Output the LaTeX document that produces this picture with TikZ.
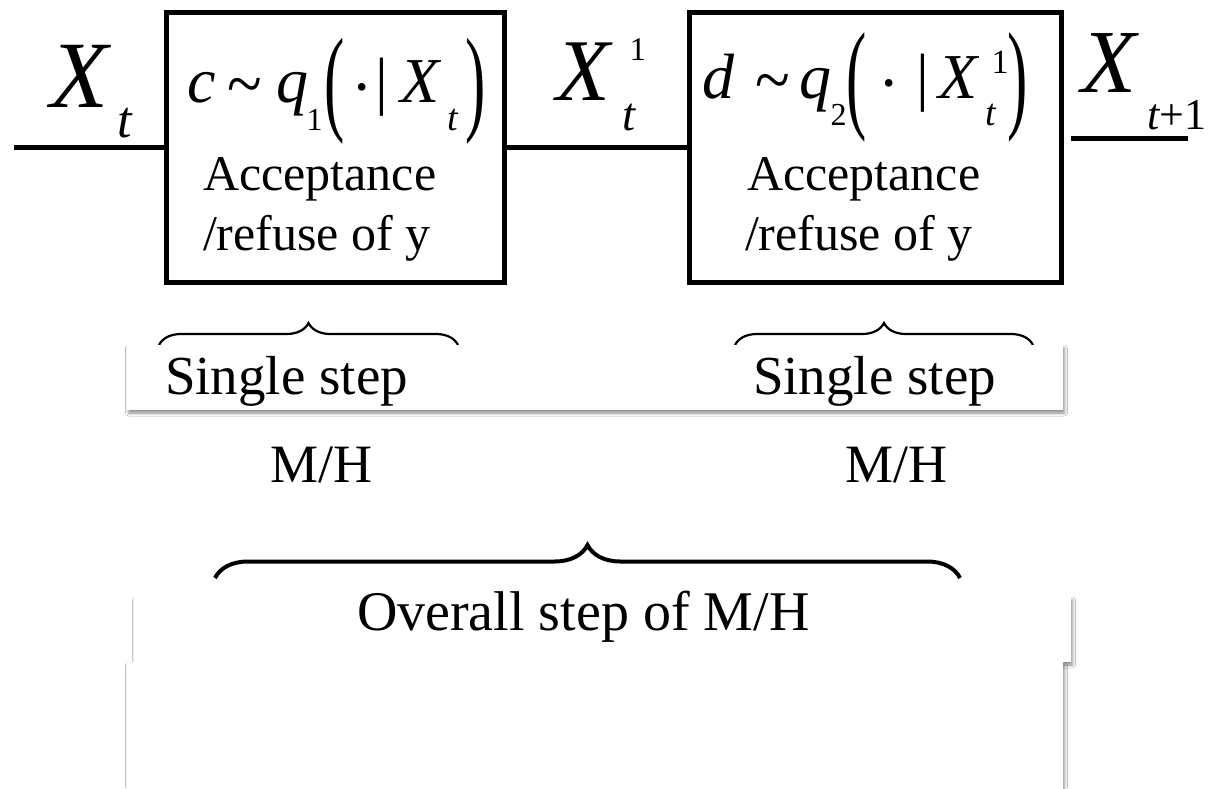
\documentclass[tikz,border=0pt]{standalone}
\usepackage{fontspec}
\setmainfont{Liberation Serif}
\usepackage{graphicx}
\usetikzlibrary{decorations.pathreplacing,shadows.blur}
\newcommand{\gl}[3]{\rlap{\hspace{#1pt}\raisebox{#2pt}{#3}}}
\newcommand{\fs}[1]{\fontsize{#1}{#1}\selectfont}
\newcommand{\tallp}[3]{\raisebox{#2pt}{\scalebox{0.95}[#1]{#3}}}
\newcommand{\wtilde}{\scalebox{1.0}[1.1]{\textasciitilde}}
\begin{document}
\begin{tikzpicture}[x=1pt,y=-1pt,
  txt/.style={anchor=base west,inner sep=0pt,outer sep=0pt},
  blockbox/.style={draw=black,line width=5pt,inner sep=0pt,outer sep=0pt,anchor=north west},
  wire/.style={line width=5pt},
  smallbrace/.style={decorate,decoration={brace,amplitude=22pt},line width=2.2pt},
  bigbrace/.style={decorate,decoration={brace,amplitude=33pt},line width=4pt},
  shadowbox/.style={fill=white,inner sep=0pt,outer sep=0pt,anchor=north west,
    blur shadow={shadow xshift=1.5pt,shadow yshift=-3pt,shadow blur radius=3pt,shadow opacity=45}}]

\useasboundingbox (0,0) rectangle (1218,788);
\fill[white] (0,0) rectangle (1218,788);

% blocks
\node[blockbox,minimum width=338pt,minimum height=270pt] (b1) at (166,12) {};
\node[blockbox,minimum width=372pt,minimum height=270pt] (b2) at (689,12) {};

% wires
\coordinate (lstart) at (14,147);
\coordinate (rstart) at (1071,138.5);
\coordinate (rend) at (1188,138.5);
\draw[wire] (lstart) -- (b1.west);
\draw[wire] (b1.east) -- (b2.west);
\draw[wire] (rstart) -- (rend);

% braces
\coordinate (br1a) at (159,345);
\coordinate (br1b) at (458,345);
\coordinate (br2a) at (735,345);
\coordinate (br2b) at (1033,345);
\coordinate (br3a) at (215,578);
\coordinate (br3b) at (960,578);
\draw[smallbrace] (br1a) -- (br1b);
\draw[smallbrace] (br2a) -- (br2b);
\draw[bigbrace] (br3a) -- (br3b);

% shadow panels
\node[shadowbox,minimum width=936pt,minimum height=65pt] (panA) at (127,345) {};
\node[shadowbox,minimum width=937pt,minimum height=65pt] (panB) at (134,597) {};
\node[shadowbox,minimum width=936pt,minimum height=140pt] (panC) at (127,662) {};

% labels on wires
\node[txt] (xt) at (50,107) {\gl{0}{0}{\fs{95}\itshape X}\gl{67}{-30}{\fs{52}\itshape t}};
\node[txt] (xt1) at (556,100) {\gl{0}{0}{\fs{88}\itshape X}\gl{66}{-30}{\fs{47}\itshape t}\gl{73}{40}{\fs{33}1}};
\node[txt] (xtp) at (1081,92) {\gl{0}{0}{\fs{90}\itshape X}\gl{66}{-37}{\fs{44}{\itshape t}+1}};

% formulas
\node[txt,font=\fs{64}] (f1) at (187,102) {\gl{0}{0}{\itshape c}\gl{40}{-5}{\wtilde}\gl{89}{0}{\itshape q}\gl{119}{-28}{\fs{32}1}\gl{137}{-17}{\tallp{1.83}{0}{(}}\gl{163.5}{-6}{·}\gl{188}{0}{|}\gl{213}{0}{\itshape X}\gl{260}{-28}{\fs{38}\itshape t}\gl{278}{-17}{\tallp{1.83}{0}{)}}};
\node[txt,font=\fs{64}] (f2) at (700,98) {\gl{2}{0}{\itshape d}\gl{55}{-5}{\wtilde}\gl{99}{0}{\itshape q}\gl{130}{-27}{\fs{32}2}\gl{146}{-18.5}{\tallp{1.89}{0}{(}}\gl{178}{-6}{·}\gl{216}{0}{|}\gl{238}{0}{\itshape X}\gl{291}{25}{\fs{34}1}\gl{285}{-27}{\fs{38}\itshape t}\gl{307}{-18.5}{\tallp{1.89}{0}{)}}};

% box texts
\node[txt,font=\fs{50}] (acc1) at (203,190) {Acceptance};
\node[txt,font=\fs{50}] (ref1) at (203,250) {/refuse of y};
\node[txt,font=\fs{50}] (acc2) at (747,190) {Acceptance};
\node[txt,font=\fs{50}] (ref2) at (745,250) {/refuse of y};

% lower texts
\node[txt,font=\fs{55}] (ss1) at (165,394) {Single step};
\node[txt,font=\fs{55}] (ss2) at (753,394) {Single step};
\node[txt,font=\fs{54}] (mh1) at (270,482) {M/H};
\node[txt,font=\fs{54}] (mh2) at (845,482) {M/H};
\node[txt,font=\fs{56}] (ov) at (357,630) {Overall step of M/H};
\end{tikzpicture}
\end{document}
